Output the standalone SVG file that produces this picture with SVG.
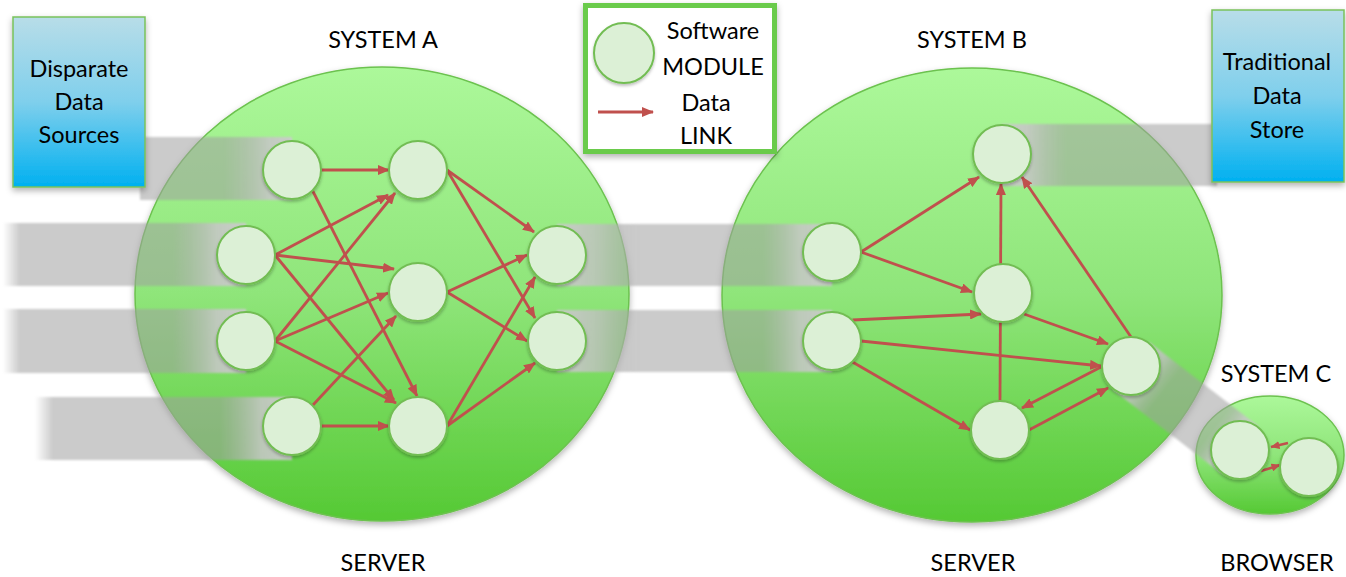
<svg xmlns="http://www.w3.org/2000/svg" width="1346" height="577" viewBox="0 0 1346 577">
<style>
text{font-family:Lato,"Liberation Sans",sans-serif;font-size:23.5px;fill:#000;text-anchor:middle}
.sys{stroke:#6cc24f;stroke-width:1.5;fill:url(#gGreen);filter:url(#sh)}
.mod{fill:#dcf0d6;stroke:#72bd53;stroke-width:2;filter:url(#shs)}
.lnk{stroke:#c0504d;stroke-width:2.8;fill:none;marker-end:url(#ah)}
.lnks{stroke:#c0504d;stroke-width:2.6;fill:none;marker-end:url(#ahs)}
.box{stroke:#79c25b;stroke-width:1.5;fill:url(#gBlue);filter:url(#sh)}
.band{filter:url(#blur)}
</style>
<defs>
<linearGradient id="gGreen" x1="0" y1="0" x2="0" y2="1">
<stop offset="0" stop-color="#acf89a"/><stop offset="0.5" stop-color="#8fe57a"/><stop offset="1" stop-color="#55c934"/>
</linearGradient>
<linearGradient id="gBlue" x1="0" y1="0" x2="0" y2="1">
<stop offset="0" stop-color="#b8dde8"/><stop offset="0.5" stop-color="#7fcfec"/><stop offset="1" stop-color="#00b0f0"/>
</linearGradient>
<linearGradient id="gL1" gradientUnits="userSpaceOnUse" x1="140" y1="0" x2="292" y2="0">
<stop offset="0" stop-color="#a0a0a0" stop-opacity="0.55"/><stop offset="0.55" stop-color="#a0a0a0" stop-opacity="0.55"/><stop offset="0.85" stop-color="#c6c6c6" stop-opacity="0.88"/><stop offset="1" stop-color="#cccccc" stop-opacity="0.95"/>
</linearGradient>
<linearGradient id="gL2" gradientUnits="userSpaceOnUse" x1="3" y1="0" x2="246" y2="0">
<stop offset="0" stop-color="#a0a0a0" stop-opacity="0"/><stop offset="0.07" stop-color="#a0a0a0" stop-opacity="0.55"/><stop offset="0.7" stop-color="#a0a0a0" stop-opacity="0.55"/><stop offset="0.88" stop-color="#c6c6c6" stop-opacity="0.88"/><stop offset="1" stop-color="#cccccc" stop-opacity="0.95"/>
</linearGradient>
<linearGradient id="gL4" gradientUnits="userSpaceOnUse" x1="35" y1="0" x2="292" y2="0">
<stop offset="0" stop-color="#a0a0a0" stop-opacity="0"/><stop offset="0.07" stop-color="#a0a0a0" stop-opacity="0.55"/><stop offset="0.72" stop-color="#a0a0a0" stop-opacity="0.55"/><stop offset="0.88" stop-color="#c6c6c6" stop-opacity="0.88"/><stop offset="1" stop-color="#cccccc" stop-opacity="0.95"/>
</linearGradient>
<linearGradient id="gBoth" x1="0" y1="0" x2="1" y2="0">
<stop offset="0" stop-color="#cccccc" stop-opacity="0.95"/><stop offset="0.15" stop-color="#c0c0c0" stop-opacity="0.8"/><stop offset="0.3" stop-color="#a0a0a0" stop-opacity="0.55"/><stop offset="0.75" stop-color="#a0a0a0" stop-opacity="0.55"/><stop offset="0.88" stop-color="#c6c6c6" stop-opacity="0.85"/><stop offset="1" stop-color="#cccccc" stop-opacity="0.95"/>
</linearGradient>
<linearGradient id="gR" x1="0" y1="0" x2="1" y2="0">
<stop offset="0" stop-color="#cccccc" stop-opacity="0.95"/><stop offset="0.12" stop-color="#c6c6c6" stop-opacity="0.88"/><stop offset="0.3" stop-color="#a0a0a0" stop-opacity="0.55"/><stop offset="1" stop-color="#a0a0a0" stop-opacity="0.55"/>
</linearGradient>
<filter id="sh" x="-10%" y="-10%" width="120%" height="125%">
<feDropShadow dx="0" dy="3" stdDeviation="3" flood-color="#000" flood-opacity="0.3"/>
</filter>
<filter id="shs" x="-20%" y="-20%" width="140%" height="150%">
<feDropShadow dx="0" dy="2" stdDeviation="1.5" flood-color="#000" flood-opacity="0.25"/>
</filter>
<filter id="blur" x="-5%" y="-10%" width="110%" height="120%">
<feGaussianBlur stdDeviation="1.2"/>
</filter>
<marker id="ah" markerWidth="12" markerHeight="10" refX="11" refY="5" orient="auto" markerUnits="userSpaceOnUse">
<path d="M0,0 L12,5 L0,10 z" fill="#c0504d"/>
</marker>
<marker id="ahs" markerWidth="9" markerHeight="8" refX="8.5" refY="4" orient="auto" markerUnits="userSpaceOnUse">
<path d="M0,0 L9,4 L0,8 z" fill="#c0504d"/>
</marker>
</defs>

<g id="systemA-circle"><ellipse class="sys" cx="382" cy="294" rx="247" ry="227"/></g>
<g id="systemB-circle"><ellipse class="sys" cx="972" cy="295" rx="250" ry="227"/></g>
<g id="systemC-circle"><ellipse class="sys" cx="1270" cy="455" rx="74" ry="59"/></g>

<g id="bands">
<rect class="band" x="140" y="137" width="152" height="63" fill="url(#gL1)"/>
<rect class="band" x="3" y="223" width="243" height="63" fill="url(#gL2)"/>
<rect class="band" x="3" y="309" width="243" height="64" fill="url(#gL2)"/>
<rect class="band" x="35" y="397" width="257" height="63" fill="url(#gL4)"/>
<rect class="band" x="557" y="224" width="275" height="62" fill="url(#gBoth)"/>
<rect class="band" x="557" y="310" width="275" height="62" fill="url(#gBoth)"/>
<rect class="band" x="1002" y="124" width="215" height="62" fill="url(#gR)"/>
<rect class="band" x="0" y="-30" width="138" height="60" fill="url(#gBoth)" transform="translate(1131,366) rotate(37.6)"/>
</g>

<g id="box-disparate">
<rect class="box" x="13" y="17" width="132" height="170"/>
<text x="79" y="77">Disparate</text>
<text x="79" y="110">Data</text>
<text x="79" y="143">Sources</text>
</g>
<g id="box-traditional">
<rect class="box" x="1212" y="10" width="132" height="172"/>
<text x="1277" y="70">Traditional</text>
<text x="1277" y="104">Data</text>
<text x="1277" y="138">Store</text>
</g>

<g id="legend">
<rect x="585.5" y="5.5" width="189" height="146" fill="#fff" stroke="#6acb4c" stroke-width="5" filter="url(#sh)"/>
<circle class="mod" cx="624" cy="53" r="30"/>
<line class="lnk" x1="598" y1="112" x2="653" y2="112"/>
<text x="713" y="39">Software</text>
<text x="713" y="75">MODULE</text>
<text x="706" y="111">Data</text>
<text x="706" y="144">LINK</text>
</g>

<g id="labels">
<text x="383" y="48">SYSTEM A</text>
<text x="972" y="48">SYSTEM B</text>
<text x="383" y="571">SERVER</text>
<text x="973" y="571">SERVER</text>
<text x="1276" y="382">SYSTEM C</text>
<text x="1277" y="571">BROWSER</text>
</g>

<g id="connectors">
<line class="lnk" x1="321" y1="170" x2="389" y2="170"/>
<line class="lnk" x1="312.5" y1="190.5" x2="417" y2="396"/>
<line class="lnk" x1="275" y1="255" x2="388" y2="195"/>
<line class="lnk" x1="275" y1="255" x2="394" y2="269"/>
<line class="lnk" x1="275" y1="255" x2="394" y2="400"/>
<line class="lnk" x1="275" y1="341" x2="395" y2="193"/>
<line class="lnk" x1="275" y1="341" x2="388" y2="293"/>
<line class="lnk" x1="275" y1="341" x2="396" y2="403"/>
<line class="lnk" x1="312.5" y1="405.5" x2="396" y2="316"/>
<line class="lnk" x1="321" y1="426" x2="389" y2="426"/>
<line class="lnk" x1="447" y1="170" x2="534" y2="232"/>
<line class="lnk" x1="447" y1="170" x2="535" y2="318"/>
<line class="lnk" x1="447" y1="292" x2="527" y2="255"/>
<line class="lnk" x1="447" y1="292" x2="527" y2="341"/>
<line class="lnk" x1="447" y1="426" x2="535" y2="277"/>
<line class="lnk" x1="447" y1="426" x2="535" y2="363"/>

<line class="lnk" x1="861" y1="252" x2="979" y2="177"/>
<line class="lnk" x1="861" y1="252" x2="972" y2="292"/>
<line class="lnk" x1="1000" y1="401" x2="1001" y2="184"/>
<line class="lnk" x1="1131" y1="337" x2="1022" y2="177"/>
<line class="lnk" x1="852.5" y1="320" x2="981" y2="314"/>
<line class="lnk" x1="861" y1="341" x2="1101" y2="366"/>
<line class="lnk" x1="852.5" y1="362" x2="970" y2="430"/>
<line class="lnk" x1="1024" y1="314" x2="1108" y2="344"/>
<line class="lnk" x1="1101" y1="367" x2="1022" y2="408"/>
<line class="lnk" x1="1029" y1="430" x2="1108" y2="388"/>

<line class="lnks" x1="1288" y1="443" x2="1271" y2="447"/>
<line class="lnks" x1="1261" y1="471" x2="1280" y2="465"/>
</g>

<g id="nodes-A">
<circle id="A1" class="mod" cx="292" cy="170" r="29"/>
<circle id="A2" class="mod" cx="246" cy="255" r="29"/>
<circle id="A3" class="mod" cx="246" cy="341" r="29"/>
<circle id="A4" class="mod" cx="292" cy="426" r="29"/>
<circle id="A5" class="mod" cx="418" cy="170" r="29"/>
<circle id="A6" class="mod" cx="418" cy="292" r="29"/>
<circle id="A7" class="mod" cx="418" cy="426" r="29"/>
<circle id="A8" class="mod" cx="557" cy="255" r="29"/>
<circle id="A9" class="mod" cx="557" cy="341" r="29"/>
</g>
<g id="nodes-B">
<circle id="B1" class="mod" cx="1002" cy="154" r="29"/>
<circle id="B2" class="mod" cx="832" cy="252" r="29"/>
<circle id="B3" class="mod" cx="1003" cy="293" r="29"/>
<circle id="B4" class="mod" cx="832" cy="341" r="29"/>
<circle id="B5" class="mod" cx="1131" cy="366" r="29"/>
<circle id="B6" class="mod" cx="1000" cy="430" r="29"/>
</g>
<g id="nodes-C">
<circle id="C1" class="mod" cx="1240" cy="450" r="29"/>
<circle id="C2" class="mod" cx="1309" cy="467" r="29"/>
</g>
</svg>
